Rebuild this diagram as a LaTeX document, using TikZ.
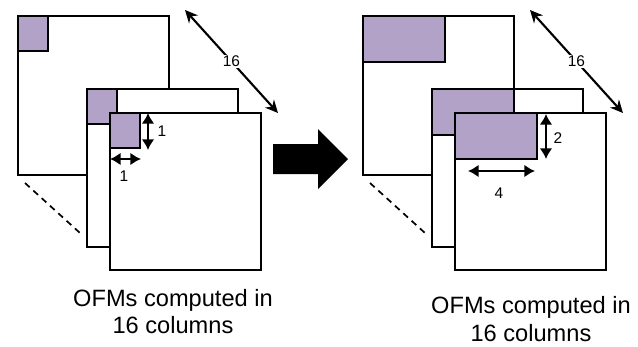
\documentclass[tikz,border=0pt]{standalone}
\usepackage{fontspec}
\setmainfont{Liberation Sans}
\usetikzlibrary{arrows.meta}
\definecolor{ofmfill}{RGB}{179,162,199}
\tikzset{
  sheet/.style={draw, fill=white, line width=1.4pt},
  patch/.style={draw, fill=ofmfill, line width=1.4pt},
  dimline/.style={{Latex[length=7.5pt,width=9pt]}-{Latex[length=7.5pt,width=9pt]}, line width=1.6pt},
  depthline/.style={{Stealth[length=9pt,width=8.5pt]}-{Stealth[length=9pt,width=8.5pt]}, line width=1.5pt},
  numlabel/.style={font=\fontsize{11}{13}\selectfont, inner sep=1pt},
  caption/.style={align=center, font=\fontsize{16.8}{19.4}\selectfont}
}
\begin{document}
\begin{tikzpicture}[x=0.25cm, y=0.25cm]
\useasboundingbox (0,0) rectangle (63.8,34.6);
\foreach \dx/\w/\h/\s in {0/3.0/3.5/a, 34.5/8.2/4.6/b}{
  \begin{scope}[shift={(\dx,0)}]
    \draw[sheet] (1.8,17.1) rectangle (16.9,33.0);
    \draw[patch] (1.8,33.0) rectangle ++(\w,-\h);
    \draw[line width=1.2pt, dash pattern=on 4.5pt off 3.5pt] (2.5,16.3)--(8.0,11.3);
    \draw[sheet] (8.7,9.9) rectangle (23.8,25.7);
    \draw[patch] (8.7,25.7) rectangle ++(\w,-\h);
    \draw[sheet] (11.0,7.6) rectangle (26.1,23.3);
    \draw[patch] (11.0,23.3) rectangle ++(\w,-\h);
    \draw[depthline] (18.5,33.6)--(27.8,23.3)
      node[midway, fill=white, numlabel] (depth\s) {16};
  \end{scope}
}
% left: one by one
\coordinate (va1) at (14.8,23.3);
\coordinate (va2) at (14.8,19.6);
\coordinate (ha1) at (11.0,18.7);
\coordinate (ha2) at (14.1,18.7);
\draw[dimline] (va1)--(va2);
\draw[dimline] (ha1)--(ha2);
\node[numlabel] (hgtA) at (16.2,21.5) {1};
\node[numlabel] (wdtA) at (12.4,17.0) {1};
% right: two by four
\coordinate (vb1) at (54.6,23.2);
\coordinate (vb2) at (54.6,18.7);
\coordinate (hb1) at (46.8,17.5);
\coordinate (hb2) at (53.5,17.5);
\draw[dimline] (vb1)--(vb2);
\draw[dimline] (hb1)--(hb2);
\node[numlabel] (hgtB) at (55.8,20.8) {2};
\node[numlabel] (wdtB) at (49.9,15.3) {4};
% block arrow
\fill (27.3,17.2)--(31.8,17.2)--(31.8,15.7)--(34.8,18.7)--(31.8,21.7)--(31.8,20.2)--(27.3,20.2)--cycle;
\node[caption] (capA) at (17.3,3.45) {OFMs computed in\\16 columns};
\node[caption] (capB) at (53.1,2.7) {OFMs computed in\\16 columns};
\end{tikzpicture}
\end{document}
